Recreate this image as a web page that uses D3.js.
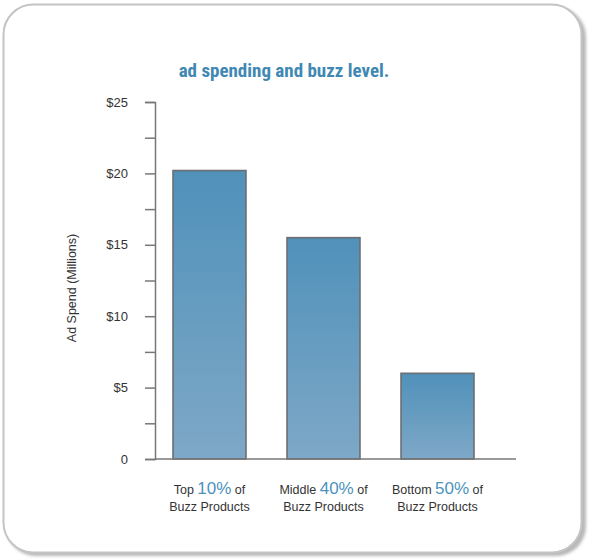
<!DOCTYPE html>
<html>
<head>
<meta charset="utf-8">
<script src="https://cdn.jsdelivr.net/npm/d3@7"></script>
<style>
  html, body { margin: 0; padding: 0; background: #ffffff; }
  svg { display: block; }
</style>
</head>
<body>
<div id="chart"></div>
<script>
// Data
const groups = ["Top", "Middle", "Bottom"];
const shares = ["10%", "40%", "50%"];
const adSpend = [20.2, 15.5, 6.0];
const majorTicks = [0, 5, 10, 15, 20, 25];
const majorLabels = ["0", "$5", "$10", "$15", "$20", "$25"];
const minorTicks = [2.5, 7.5, 12.5, 17.5, 22.5];

const W = 589, H = 560;
const svg = d3.select("#chart").append("svg").attr("width", W).attr("height", H);

// Card frame with a soft shadow on the lower right
const defs = svg.append("defs");
const blur = defs.append("filter").attr("id", "shadowBlur").attr("x", "-5%").attr("y", "-5%").attr("width", "110%").attr("height", "110%");
blur.append("feGaussianBlur").attr("stdDeviation", 1.5);

svg.append("rect")
  .attr("x", 6).attr("y", 7).attr("width", 580).attr("height", 549)
  .attr("rx", 30).attr("ry", 30)
  .attr("fill", "#b8b8b8").attr("filter", "url(#shadowBlur)");
svg.append("rect")
  .attr("x", 3.5).attr("y", 4.5).attr("width", 578).attr("height", 548)
  .attr("rx", 30).attr("ry", 30)
  .attr("fill", "#ffffff").attr("stroke", "#c4c4c6").attr("stroke-width", 2);

// Bar gradient: deeper blue at the top fading lighter toward the base
const grad = defs.append("linearGradient").attr("id", "barGrad")
  .attr("x1", 0).attr("y1", 0).attr("x2", 0).attr("y2", 1);
grad.append("stop").attr("offset", "0%").attr("stop-color", "#5091ba");
grad.append("stop").attr("offset", "100%").attr("stop-color", "#7ea8c7");

// Scales
const y = d3.scaleLinear().domain([0, 25]).range([459, 102]);
const x = d3.scaleBand().domain(groups).range([155, 492]).paddingInner(0.36).paddingOuter(0.158);

// Title
svg.append("text")
  .attr("x", 284).attr("y", 77)
  .attr("text-anchor", "middle")
  .attr("font-family", "'Liberation Sans Narrow', 'Roboto Condensed', 'Arial Narrow', sans-serif")
  .attr("font-weight", "bold")
  .attr("font-size", 19)
  .attr("fill", "#3f88b3")
  .text("ad spending and buzz level.");

// Y axis
const axisColor = "#777777";
const tickFont = "'Liberation Sans', Arial, sans-serif";
const gY = svg.append("g").attr("transform", "translate(155,0)");
const yAxis = d3.axisLeft(y).tickValues(majorTicks).tickSize(10).tickPadding(17)
  .tickFormat((d, i) => majorLabels[i]);
gY.call(yAxis);
gY.select(".domain").attr("stroke", axisColor).attr("stroke-width", 1.5);
gY.selectAll(".tick line").attr("stroke", axisColor).attr("stroke-width", 1.5);
gY.selectAll(".tick text")
  .attr("font-family", tickFont)
  .attr("font-size", 13).attr("fill", "#333333");

const gYMinor = svg.append("g").attr("transform", "translate(155,0)");
gYMinor.call(d3.axisLeft(y).tickValues(minorTicks).tickSize(10).tickFormat(""));
gYMinor.select(".domain").remove();
gYMinor.selectAll(".tick line").attr("stroke", axisColor).attr("stroke-width", 1.5);

// Y axis title
svg.append("text")
  .attr("transform", "translate(76,288) rotate(-90)")
  .attr("text-anchor", "middle")
  .attr("font-family", "'Liberation Sans Narrow', 'Liberation Sans', Arial, sans-serif")
  .attr("font-size", 12.5)
  .attr("fill", "#333333")
  .text("Ad Spend (Millions)");

// Bars
svg.append("g").selectAll("rect")
  .data(groups)
  .join("rect")
  .attr("x", d => x(d))
  .attr("y", (d, i) => y(adSpend[i]))
  .attr("width", x.bandwidth())
  .attr("height", (d, i) => y(0) - y(adSpend[i]))
  .attr("fill", "url(#barGrad)")
  .attr("stroke", "#6b6e72")
  .attr("stroke-width", 1.6);

// Baseline
svg.append("line")
  .attr("x1", 155).attr("x2", 516)
  .attr("y1", y(0)).attr("y2", y(0))
  .attr("stroke", axisColor).attr("stroke-width", 1.5);

// Category labels
const labelFont = "'Liberation Sans Narrow', 'Liberation Sans', Arial, sans-serif";
const cats = svg.append("g").selectAll("g")
  .data(groups)
  .join("g")
  .attr("transform", d => `translate(${x(d) + x.bandwidth() / 2},0)`);

const line1 = cats.append("text")
  .attr("y", 494)
  .attr("text-anchor", "middle")
  .attr("font-family", labelFont)
  .attr("font-size", 12.5)
  .attr("fill", "#333333");
line1.append("tspan").text(d => d + " ");
line1.append("tspan").attr("font-size", 17).attr("fill", "#4b93bd").text((d, i) => shares[i]);
line1.append("tspan").text(" of");

cats.append("text")
  .attr("y", 511)
  .attr("text-anchor", "middle")
  .attr("font-family", labelFont)
  .attr("font-size", 12.5)
  .attr("fill", "#333333")
  .text("Buzz Products");
</script>
</body>
</html>
